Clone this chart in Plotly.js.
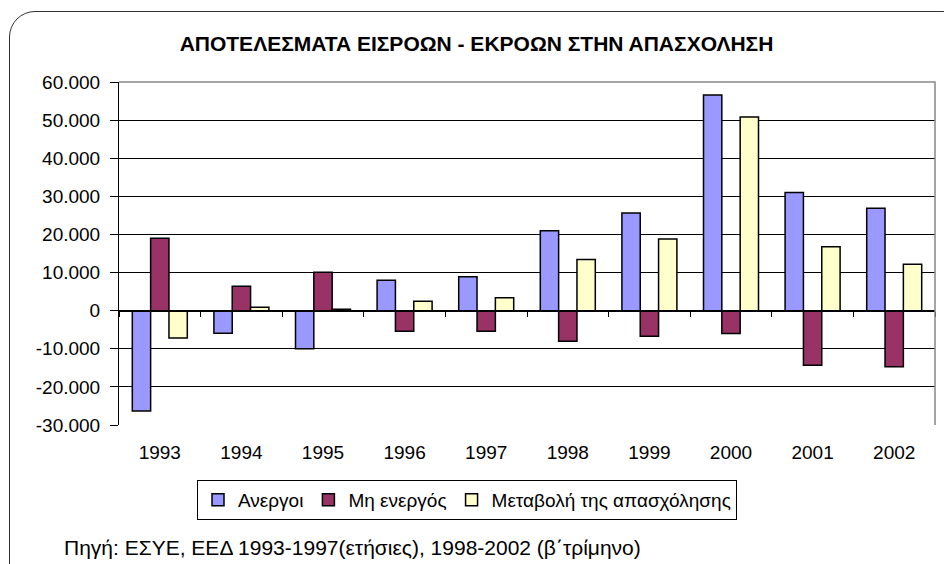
<!DOCTYPE html>
<html>
<head>
<meta charset="utf-8">
<script src="https://cdn.plot.ly/plotly-3.0.1.min.js"></script>
<style>
html,body{margin:0;padding:0;overflow:hidden;background:#fff;}
#wrap{position:relative;width:944px;height:564px;overflow:hidden;}
#chart{position:absolute;left:0;top:0;width:944px;height:564px;}
#frame{position:absolute;left:9px;top:11px;width:960px;height:580px;border:1.5px solid #333;border-radius:26px;pointer-events:none;box-sizing:border-box;}
</style>
</head>
<body>
<div id="wrap"><div id="chart"></div><div id="frame"></div></div>
<script>
const years = ['1993','1994','1995','1996','1997','1998','1999','2000','2001','2002'];
const anergoi = [-26300, -5900, -10000, 8000, 8900, 21000, 25600, 56600, 31000, 26900];
const mhEnergos = [19000, 6400, 10100, -5400, -5400, -8000, -6700, -6000, -14300, -14700];
const metavoli = [-7200, 900, 400, 2500, 3400, 13400, 18800, 50800, 16800, 12200];
const seriesNames = ['Ανεργοι', 'Μη ενεργός', 'Μεταβολή της απασχόλησης'];
const yTickVals = [-30000, -20000, -10000, 0, 10000, 20000, 30000, 40000, 50000, 60000];
const yTickText = ['-30.000', '-20.000', '-10.000', '0', '10.000', '20.000', '30.000', '40.000', '50.000', '60.000'];
const titleText = 'ΑΠΟΤΕΛΕΣΜΑΤΑ ΕΙΣΡΟΩΝ - ΕΚΡΟΩΝ ΣΤΗΝ ΑΠΑΣΧΟΛΗΣΗ';
const sourceText = 'Πηγή: ΕΣΥΕ, ΕΕΔ 1993-1997(ετήσιες), 1998-2002 (β΄τρίμηνο)';

const FONT = 'Arial, "Liberation Sans", sans-serif';
const colors = ['#9999FF', '#993366', '#FFFFCC'];
const vals = [anergoi, mhEnergos, metavoli];

const traces = vals.map((v, i) => ({
  type: 'bar', x: years, y: v, name: seriesNames[i],
  marker: {color: colors[i], line: {color: '#000', width: 1.5}},
  hoverinfo: 'x+y+name'
}));
traces.push({
  type: 'scatter', mode: 'markers', x: years, y: years.map(() => null),
  xaxis: 'x2', yaxis: 'y', showlegend: false, hoverinfo: 'skip'
});

const layout = {
  width: 944, height: 564,
  margin: {l: 119, r: 9, t: 82, b: 139},
  paper_bgcolor: 'rgba(0,0,0,0)', plot_bgcolor: '#fff',
  font: {family: FONT, color: '#000', size: 19},
  title: {text: '<b>' + titleText + '</b>', x: 476.5/944, xanchor: 'center', y: 1 - 44/564, yanchor: 'middle',
          font: {family: FONT, size: 21, color: '#000'}},
  barmode: 'group', bargap: 0.326, bargroupgap: 0,
  showlegend: true,
  legend: {orientation: 'h', x: (467-119)/816, xanchor: 'center', y: (425-500)/343, yanchor: 'middle',
           bordercolor: '#000', borderwidth: 1, bgcolor: '#fff', font: {family: FONT, size: 19},
           traceorder: 'normal'},
  xaxis: {type: 'category', range: [-0.5, 9.5], showline: false, showgrid: false, zeroline: false,
          ticks: '', tickfont: {family: FONT, size: 19}, ticklabelstandoff: 14, fixedrange: true},
  xaxis2: {type: 'category', range: [-0.5, 9.5], overlaying: 'x', anchor: 'free', position: 30000/90000,
           showline: true, linecolor: '#000', linewidth: 1, ticks: 'outside', tickson: 'boundaries',
           ticklen: 5, tickcolor: '#000', tickwidth: 1, showticklabels: false, showgrid: false, zeroline: false},
  yaxis: {range: [-30000, 60000], tickvals: yTickVals, ticktext: yTickText, showline: true, linecolor: '#000',
          linewidth: 1, ticks: 'outside', ticklen: 8, tickcolor: '#000', showgrid: true, gridcolor: '#000',
          gridwidth: 1, zeroline: false, tickfont: {family: FONT, size: 19}, ticklabelstandoff: 6},
  shapes: [{type: 'path', xref: 'paper', yref: 'paper', path: 'M0,1 L1,1 L1,0', line: {color: '#888', width: 1.5}}],
  annotations: [{text: sourceText, xref: 'paper', yref: 'paper', x: (62-119)/816, y: (425-547)/343,
                 xanchor: 'left', yanchor: 'middle', showarrow: false, font: {family: FONT, size: 21, color: '#000'}}]
};

Plotly.newPlot('chart', traces, layout, {displayModeBar: false, staticPlot: true});
</script>
</body>
</html>
